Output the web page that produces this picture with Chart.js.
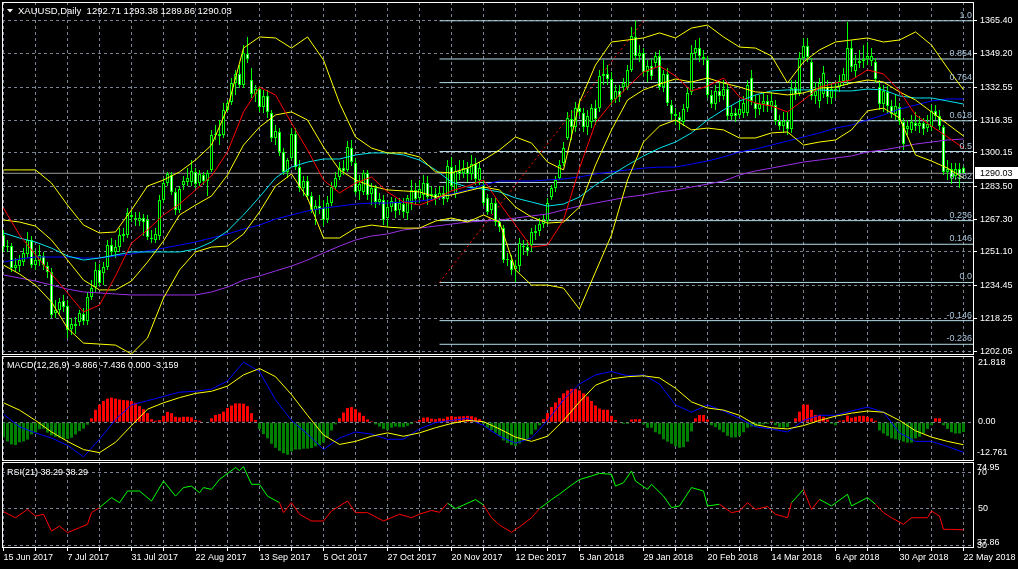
<!DOCTYPE html>
<html>
<head>
<meta charset="utf-8">
<script src="https://cdn.jsdelivr.net/npm/chart.js@4.4.1/dist/chart.umd.min.js"></script>
<style>
  html, body { margin: 0; padding: 0; background: #000; }
  #wrap { position: relative; width: 1018px; height: 569px; overflow: hidden; background: #000; }
  canvas { position: absolute; left: 0; }
</style>
</head>
<body>
<div id="wrap">
  <canvas id="main" width="1018" height="356" style="top:0px"></canvas>
  <canvas id="macd" width="1018" height="106" style="top:356px"></canvas>
  <canvas id="rsi" width="1018" height="107" style="top:462px"></canvas>
</div>
<script>
// ---- daily XAUUSD candles, 15 Jun 2017 .. 22 May 2018 ----
const opens = [
  1259.5,1253.5,1254.0,1243.1,1244.1,1246.1,1250.1,1257.0,1244.6,1246.6,
  1249.1,1244.1,1241.2,1220.9,1222.4,1226.8,1224.3,1212.9,1215.4,1216.4,
  1220.4,1216.9,1228.8,1233.7,1242.2,1240.7,1243.6,1254.5,1251.1,1253.5,
  1259.0,1259.5,1269.4,1267.9,1266.4,1267.9,1266.9,1258.0,1257.0,1259.0,
  1276.8,1285.2,1289.2,1280.8,1271.9,1284.2,1285.7,1285.7,1290.7,1285.2,
  1289.2,1286.2,1291.7,1309.0,1309.5,1309.0,1321.4,1325.3,1334.7,1339.2,
  1333.7,1349.1,1336.2,1329.3,1331.7,1322.8,1328.3,1319.9,1307.5,1310.5,
  1300.6,1290.7,1297.6,1309.5,1293.1,1282.7,1286.2,1278.8,1271.9,1273.8,
  1272.8,1267.4,1275.3,1283.2,1288.2,1292.6,1291.7,1302.5,1295.1,1281.3,
  1280.8,1290.2,1279.8,1282.7,1275.8,1276.8,1267.9,1273.3,1275.8,1271.9,
  1274.8,1270.4,1275.3,1281.8,1277.8,1279.3,1285.2,1278.8,1279.8,1277.8,
  1280.3,1277.3,1293.1,1279.8,1291.2,1290.2,1292.6,1289.7,1294.6,1286.7,
  1284.2,1277.8,1271.9,1275.3,1265.9,1262.9,1247.1,1247.1,1242.6,1244.1,
  1254.0,1253.5,1254.5,1260.5,1261.5,1264.9,1266.4,1278.3,1282.7,1287.7,
  1295.1,1307.5,1316.9,1312.9,1322.3,1319.9,1312.9,1315.4,1322.3,1322.3,
  1338.2,1339.2,1336.7,1326.8,1330.8,1332.7,1332.7,1341.2,1357.5,1348.1,
  1349.6,1340.2,1343.1,1344.6,1348.1,1332.7,1339.2,1323.8,1319.4,1317.9,
  1315.4,1322.3,1330.3,1349.6,1352.0,1347.6,1346.1,1328.8,1324.3,1330.8,
  1328.3,1331.7,1318.4,1319.9,1318.9,1319.9,1319.9,1337.2,1324.8,1321.8,
  1324.3,1325.8,1323.3,1323.8,1315.9,1313.4,1315.9,1311.9,1332.2,1329.8,
  1347.1,1353.0,1345.1,1328.3,1325.8,1329.3,1332.7,1327.3,1331.7,1332.7,
  1335.7,1335.7,1352.0,1340.7,1344.6,1345.6,1346.6,1345.6,1345.1,1332.7,
  1324.3,1330.3,1323.3,1319.4,1322.8,1315.4,1311.9,1311.5,1314.9,1313.4,
  1314.9,1312.4,1312.9,1320.9,1318.4,1312.9,1290.7,1292.1,1288.7,1292.1,
  1292.71
];
const highs = [
  1262.0,1257.0,1255.5,1248.1,1249.6,1253.0,1261.0,1259.0,1252.1,1254.5,
  1251.1,1246.1,1243.1,1227.3,1228.3,1229.8,1227.3,1218.4,1218.9,1222.4,
  1223.3,1231.3,1237.2,1246.1,1245.1,1246.1,1257.0,1258.0,1257.0,1262.9,
  1262.9,1272.8,1271.9,1270.9,1270.9,1269.9,1269.4,1262.0,1262.9,1279.3,
  1287.7,1290.7,1290.7,1282.7,1283.7,1288.7,1292.6,1296.6,1292.6,1291.7,
  1290.7,1291.7,1311.5,1313.9,1316.4,1324.8,1326.3,1337.2,1341.2,1343.6,
  1353.5,1357.5,1342.1,1333.7,1333.2,1331.3,1331.3,1321.4,1313.9,1312.4,
  1302.5,1297.6,1312.4,1312.4,1296.6,1288.7,1288.7,1280.8,1276.8,1279.3,
  1276.8,1278.8,1285.7,1290.7,1295.6,1296.6,1306.0,1306.5,1297.6,1289.2,
  1291.7,1291.7,1285.2,1284.2,1280.3,1279.3,1276.8,1278.3,1277.8,1277.8,
  1277.8,1279.3,1286.7,1285.2,1286.7,1289.2,1288.7,1283.7,1282.7,1283.7,
  1283.7,1296.6,1298.1,1294.1,1296.6,1296.6,1295.6,1299.1,1297.6,1295.6,
  1286.7,1279.8,1277.8,1277.8,1267.9,1264.4,1250.6,1249.6,1247.1,1258.0,
  1257.0,1257.0,1262.9,1264.4,1267.9,1269.4,1277.8,1284.2,1288.7,1296.6,
  1305.5,1320.4,1321.4,1325.3,1326.3,1322.3,1321.4,1324.3,1326.3,1341.2,
  1346.1,1343.6,1340.2,1333.7,1333.7,1337.2,1343.6,1362.4,1365.6,1353.5,
  1352.0,1346.1,1347.1,1350.1,1351.1,1341.2,1342.1,1326.3,1322.3,1320.4,
  1324.3,1332.2,1353.5,1356.0,1357.0,1351.1,1348.1,1331.3,1333.7,1335.2,
  1336.2,1334.2,1323.8,1322.3,1326.3,1328.3,1336.2,1341.2,1328.8,1328.8,
  1329.8,1328.8,1329.8,1326.3,1318.9,1320.4,1320.4,1336.2,1336.2,1350.1,
  1357.0,1357.0,1347.1,1335.2,1337.2,1343.1,1336.2,1335.2,1335.2,1338.7,
  1342.1,1364.9,1356.0,1348.6,1351.1,1353.5,1355.0,1352.0,1347.1,1336.2,
  1333.7,1333.2,1326.3,1328.8,1324.8,1317.4,1316.4,1318.9,1320.4,1318.4,
  1317.4,1318.9,1323.8,1323.8,1321.4,1313.9,1296.6,1295.1,1295.1,1295.1,
  1293.38
];
const lows = [
  1251.1,1251.1,1241.2,1241.2,1241.2,1244.1,1248.1,1243.1,1242.2,1244.1,
  1242.2,1238.2,1218.4,1218.4,1220.4,1221.4,1208.5,1210.0,1210.5,1214.4,
  1214.9,1214.9,1227.3,1231.3,1234.2,1234.7,1242.2,1249.1,1248.1,1251.1,
  1256.0,1258.0,1265.9,1263.9,1263.9,1259.0,1257.0,1255.5,1255.5,1257.0,
  1275.3,1283.7,1279.3,1269.4,1270.4,1281.8,1283.7,1283.7,1282.7,1283.7,
  1284.2,1278.8,1290.7,1306.5,1304.0,1307.5,1320.4,1323.8,1328.8,1332.2,
  1332.2,1344.6,1327.3,1325.3,1320.4,1319.9,1317.4,1305.5,1304.0,1298.6,
  1289.2,1287.7,1296.6,1291.7,1280.8,1278.8,1276.8,1270.4,1264.4,1269.9,
  1263.9,1265.4,1273.8,1281.8,1286.7,1289.2,1290.7,1293.6,1279.3,1276.8,
  1279.3,1276.8,1274.3,1272.8,1274.3,1264.4,1263.4,1270.9,1267.9,1269.4,
  1267.9,1266.9,1271.9,1274.3,1275.3,1276.8,1274.3,1276.8,1274.3,1276.8,
  1274.3,1275.8,1281.8,1277.8,1286.7,1287.7,1285.7,1286.7,1284.2,1284.2,
  1273.8,1269.4,1269.9,1263.9,1261.0,1245.6,1244.1,1239.7,1236.2,1241.2,
  1249.6,1249.1,1251.1,1257.0,1259.0,1262.9,1264.4,1276.8,1280.8,1286.7,
  1293.6,1306.5,1306.5,1310.5,1318.4,1310.5,1309.0,1312.4,1313.9,1320.4,
  1333.7,1333.7,1323.8,1324.8,1325.3,1330.3,1331.3,1340.2,1346.1,1345.1,
  1338.2,1335.2,1336.2,1342.6,1331.3,1330.3,1323.3,1316.4,1313.9,1311.5,
  1313.4,1320.4,1328.8,1346.1,1345.1,1343.6,1327.3,1322.3,1321.4,1325.3,
  1326.3,1316.4,1316.4,1315.4,1317.4,1317.4,1318.4,1323.8,1317.4,1318.9,
  1320.4,1320.4,1321.4,1313.9,1311.5,1310.0,1309.0,1310.0,1326.3,1328.3,
  1345.1,1345.1,1326.3,1324.3,1322.3,1327.3,1324.3,1324.3,1327.3,1330.3,
  1333.2,1333.7,1340.2,1337.2,1342.1,1342.1,1343.6,1343.1,1334.7,1321.4,
  1320.4,1319.9,1317.4,1316.4,1313.9,1301.6,1309.0,1310.0,1311.0,1310.0,
  1309.0,1310.5,1311.0,1316.4,1311.5,1289.2,1286.7,1284.7,1286.7,1282.7,
  1289.86
];
const closes = [
  1253.5,1254.0,1243.1,1244.6,1247.1,1250.6,1257.0,1244.6,1247.1,1249.6,
  1244.6,1241.2,1219.9,1222.4,1226.3,1223.8,1212.5,1215.4,1214.4,1220.9,
  1216.9,1228.8,1233.2,1242.2,1235.7,1243.6,1254.5,1251.1,1253.5,1259.5,
  1260.0,1270.4,1268.4,1267.4,1267.9,1265.9,1258.5,1257.5,1260.0,1276.8,
  1285.2,1289.7,1280.8,1271.9,1282.2,1286.2,1287.7,1291.2,1284.7,1289.7,
  1286.2,1290.2,1309.0,1309.5,1308.5,1321.4,1324.8,1334.7,1339.2,1333.7,
  1349.6,1346.6,1329.3,1331.7,1322.8,1328.3,1320.4,1307.5,1311.0,1300.6,
  1290.7,1296.6,1309.5,1293.1,1282.7,1286.2,1278.8,1271.9,1273.8,1272.3,
  1266.9,1275.3,1283.2,1287.7,1292.6,1291.2,1303.0,1295.6,1280.8,1284.7,
  1290.2,1279.3,1282.7,1275.8,1277.3,1266.9,1273.3,1276.3,1271.4,1275.3,
  1270.9,1277.8,1281.8,1277.3,1282.2,1285.2,1278.3,1279.8,1277.3,1280.3,
  1277.3,1293.6,1283.7,1291.2,1289.7,1292.6,1289.7,1294.6,1287.2,1292.6,
  1275.3,1270.9,1275.3,1265.9,1263.4,1247.1,1247.6,1242.2,1244.1,1255.5,
  1253.5,1251.6,1261.0,1261.5,1264.9,1266.4,1275.3,1282.7,1286.7,1294.1,
  1302.5,1317.4,1312.9,1322.3,1320.4,1312.9,1318.4,1322.3,1316.9,1338.2,
  1339.2,1336.7,1326.3,1330.8,1327.8,1334.7,1341.2,1358.0,1348.1,1349.6,
  1340.2,1343.1,1338.2,1348.1,1332.7,1339.2,1324.8,1319.4,1318.4,1315.9,
  1321.8,1329.8,1349.6,1352.0,1348.1,1346.6,1328.8,1324.3,1330.8,1328.3,
  1331.7,1318.4,1319.9,1318.4,1321.8,1324.8,1333.7,1325.8,1321.8,1324.3,
  1325.8,1323.3,1325.8,1315.9,1313.4,1315.9,1311.9,1332.2,1329.3,1347.1,
  1353.0,1347.6,1328.3,1330.8,1334.7,1339.7,1327.8,1331.7,1330.8,1335.7,
  1339.2,1352.0,1342.6,1344.1,1345.6,1346.6,1348.1,1348.1,1336.7,1324.3,
  1330.8,1323.3,1319.4,1323.3,1315.9,1304.5,1313.4,1315.4,1313.4,1314.9,
  1311.9,1314.4,1320.9,1318.4,1313.4,1290.7,1292.1,1288.2,1292.1,1289.7,
  1290.03
];

// ---- indicator lines on the price panel, one reading every 4 bars ----
const bbUpper = [
  1291.7,1291.7,1291.7,1285.2,1274.3,1264.4,1260.5,1261.0,1271.9,1283.7,
  1286.7,1290.7,1296.6,1304.0,1322.3,1352.0,1357.5,1357.0,1352.0,1357.5,
  1346.1,1324.8,1308.0,1302.5,1300.1,1300.1,1298.1,1290.7,1290.2,1292.6,
  1296.6,1301.6,1308.0,1305.0,1295.6,1291.7,1325.3,1343.6,1355.0,1356.0,
  1357.0,1359.5,1357.0,1361.9,1363.4,1357.5,1352.5,1352.0,1348.1,1334.7,
  1345.1,1351.1,1355.0,1356.0,1357.0,1355.0,1356.0,1360.0,1353.5,1342.1,
  1331.3
];
const bbMiddle = [
  1266.9,1265.9,1263.9,1257.0,1247.1,1237.2,1232.3,1232.3,1236.7,1246.1,
  1256.5,1269.4,1274.3,1278.8,1289.2,1304.0,1312.9,1318.9,1320.4,1316.4,
  1303.0,1291.7,1286.7,1283.7,1281.8,1281.3,1280.8,1278.3,1279.3,1281.3,
  1283.2,1281.8,1273.3,1268.4,1265.4,1265.9,1273.3,1294.1,1311.5,1326.3,
  1331.3,1334.2,1336.7,1335.2,1337.2,1334.7,1332.7,1330.3,1329.8,1328.8,
  1329.8,1332.2,1332.7,1334.7,1336.2,1335.2,1330.3,1326.3,1320.4,1314.4,
  1308.5
];
const bbLower = [
  1244.6,1240.2,1234.7,1226.3,1213.4,1206.0,1205.5,1205.0,1200.6,1208.5,
  1228.3,1242.2,1251.1,1253.5,1254.0,1260.0,1270.9,1283.7,1289.7,1277.8,
  1258.0,1258.0,1262.9,1264.4,1263.4,1262.9,1262.9,1266.4,1267.9,1265.9,
  1269.4,1265.9,1242.2,1234.7,1234.7,1233.2,1222.8,1241.2,1259.5,1286.7,
  1305.5,1313.4,1316.4,1311.5,1312.4,1311.5,1307.5,1307.5,1310.0,1310.5,
  1304.0,1305.5,1306.5,1311.5,1320.9,1322.3,1317.4,1299.1,1296.1,1292.6,
  1287.7
];
const maRed = [
  1272.8,1259.5,1249.6,1240.2,1230.8,1221.4,1224.8,1239.2,1255.5,1262.0,
  1269.4,1274.8,1281.8,1288.7,1300.6,1320.4,1332.7,1328.8,1314.9,1301.6,
  1286.7,1280.3,1285.2,1288.2,1280.8,1275.8,1274.3,1277.3,1281.3,1283.7,
  1286.7,1275.3,1264.4,1253.5,1254.5,1266.9,1292.6,1314.9,1324.8,1332.7,
  1340.2,1343.1,1338.2,1330.8,1333.2,1337.2,1327.8,1324.8,1323.3,1320.4,
  1326.3,1332.7,1334.7,1336.2,1341.2,1339.2,1330.8,1318.9,1313.4,1308.0,
  1302.5
];
const maCyan = [
  1260.5,1258.0,1256.0,1253.0,1249.1,1247.1,1248.1,1249.6,1251.1,1251.1,
  1251.1,1251.1,1252.5,1256.0,1261.5,1269.4,1278.3,1287.7,1293.1,1295.6,
  1297.1,1297.1,1299.1,1300.1,1300.1,1299.1,1296.6,1291.7,1285.7,1283.2,
  1282.2,1280.8,1277.8,1275.8,1273.8,1274.8,1278.3,1284.2,1289.2,1294.1,
  1298.6,1302.5,1305.5,1310.0,1316.4,1321.4,1325.8,1328.8,1330.8,1331.3,
  1331.3,1331.3,1330.8,1330.8,1331.7,1331.3,1328.3,1327.3,1327.3,1325.8,
  1324.3
];
const maBlue = [
  1246.1,1247.6,1248.6,1248.6,1248.6,1248.1,1248.1,1249.1,1250.1,1251.6,
  1253.0,1254.5,1256.0,1258.0,1260.0,1262.4,1264.4,1267.4,1269.4,1271.4,
  1272.8,1273.8,1274.8,1275.3,1275.3,1275.8,1276.3,1277.3,1279.8,1281.8,
  1284.2,1286.2,1286.2,1286.2,1286.7,1287.2,1288.2,1289.7,1290.7,1291.7,
  1292.6,1293.1,1293.1,1294.6,1296.1,1298.1,1300.6,1302.0,1304.0,1306.0,
  1308.0,1310.0,1312.4,1313.9,1316.4,1318.9,1321.8,1323.8,1325.8,1326.8,
  1326.8
];
const maPurple = [
  1239.7,1238.2,1236.7,1234.7,1232.7,1231.3,1230.8,1230.3,1229.8,1229.8,
  1229.8,1229.8,1229.8,1231.3,1233.7,1237.2,1239.2,1241.7,1244.1,1247.1,
  1250.6,1254.0,1257.0,1259.0,1260.0,1262.0,1262.9,1263.9,1264.9,1265.9,
  1266.4,1266.9,1267.9,1268.9,1269.9,1271.9,1273.8,1275.3,1276.8,1278.3,
  1279.3,1280.8,1281.8,1283.2,1284.7,1286.2,1289.2,1291.2,1292.6,1294.1,
  1295.6,1296.6,1297.6,1298.6,1300.6,1301.6,1303.0,1304.5,1305.5,1306.5,
  1307.0
];

// ---- Fibonacci retracement drawn on the chart ----
const fibLabels = ['1.0','0.854','0.764','0.618','0.5','0.382','0.236','0.146','0.0','-0.146','-0.236'];
const fibPrices = [1365.5,1346.6,1334.9,1316.0,1300.8,1285.5,1266.6,1254.9,1236.0,1217.1,1205.4];
const fibFromBar = 109;
const fibTrend = [[109, 1236.0], [160, 1365.5]];
const bidPrice = 1290.03;

// ---- MACD(12,26,9) ----
const macdHist = [
  -5.0,-6.3,-7.3,-7.5,-6.6,-6.3,-5.7,-4.0,-3.4,-2.3,
  -2.1,-3.4,-4.3,-4.8,-5.1,-5.5,-5.5,-5.1,-4.0,-2.9,
  -2.1,-0.8,1.3,4.1,5.8,7.0,7.8,8.1,7.8,7.5,
  7.3,7.2,7.0,6.4,5.3,4.3,3.0,1.0,0.5,0.7,
  2.1,3.4,3.0,1.8,1.6,1.8,1.8,1.6,0.7,0.5,
  0.0,-0.2,1.3,2.4,2.7,3.5,4.7,5.5,6.2,6.2,
  6.1,5.3,3.0,0.7,-2.2,-3.9,-5.3,-7.1,-8.4,-9.4,
  -10.2,-10.7,-9.6,-9.0,-9.0,-8.7,-8.7,-8.5,-7.9,-7.5,
  -6.7,-5.0,-2.7,-0.7,1.3,3.2,4.7,5.0,4.3,3.2,
  2.1,0.9,0.3,-0.7,-1.4,-2.2,-2.5,-1.8,-1.4,-1.6,
  -1.6,-1.2,-0.6,0.3,0.8,1.5,1.6,1.2,1.0,1.3,
  1.2,1.8,2.0,1.8,1.9,2.0,2.1,2.0,1.6,1.0,
  -0.5,-1.8,-2.6,-3.5,-4.5,-6.0,-6.8,-7.5,-7.8,-7.0,
  -6.2,-5.5,-4.0,-2.5,-1.0,1.0,3.0,5.0,6.5,8.0,
  9.5,10.5,11.0,11.0,10.5,9.5,8.5,7.0,5.5,4.5,
  4.1,4.1,2.1,0.7,-0.2,-0.5,-0.5,0.9,1.0,1.0,
  -0.7,-1.8,-1.8,-3.3,-3.9,-5.6,-6.4,-7.1,-7.9,-8.4,
  -8.2,-6.4,-3.0,1.3,2.4,2.4,0.9,-1.0,-1.6,-2.5,
  -3.3,-4.5,-5.0,-5.0,-4.5,-3.3,-1.8,-1.4,-1.4,-1.0,
  -0.7,-0.5,0.3,-1.0,-1.6,-1.8,-1.6,-0.2,1.3,3.5,
  5.8,5.8,4.1,2.4,2.4,1.8,0.9,-0.5,-1.0,0.5,
  0.7,2.2,1.5,1.8,2.1,2.1,1.8,1.3,0.5,-2.7,
  -3.7,-4.5,-5.3,-5.6,-5.9,-6.4,-6.7,-6.7,-5.3,-4.8,
  -3.7,-2.2,-1.0,1.3,1.3,-1.0,-2.2,-3.3,-3.7,-3.7,
  -3.2
];
const macdMain = [
  2.6,-1.5,-3.5,-5.2,-7.6,-11.4,-5.6,0.9,5.7,7.1,
  8.5,9.9,10.2,10.9,13.6,19.8,16.7,7.4,0.6,-3.9,
  -9.0,-5.2,-3.2,-3.9,-5.6,-5.6,-2.2,-0.1,0.6,1.3,
  -1.1,-4.6,-6.9,-5.2,0.6,7.4,12.6,15.6,16.7,15.3,
  15.6,12.6,5.7,3.3,5.7,3.7,1.3,-1.5,-2.2,-3.2,
  0.6,2.3,2.3,3.7,5.0,3.3,-3.5,-6.3,-6.3,-8.0,
  -9.9
];
const macdSignal = [
  6.4,4.0,0.6,-3.2,-6.3,-9.0,-10.0,-6.6,-1.1,4.3,
  6.4,8.1,9.5,10.2,11.9,15.6,17.7,15.0,9.1,2.3,
  -4.2,-7.3,-6.3,-4.6,-3.5,-4.6,-3.5,-1.8,-0.4,0.6,
  0.2,-2.2,-4.9,-6.3,-4.6,0.6,6.7,12.2,14.3,15.0,
  15.3,14.6,11.2,6.7,4.7,4.0,2.3,-0.8,-1.8,-2.2,
  -1.1,0.6,2.0,3.0,3.7,3.3,0.6,-2.8,-4.9,-6.3,
  -7.4
];
const macdMax = 21.818, macdMin = -12.761;
const macdReadout = ['-9.866', '-7.436', '0.000', '-3.159'];

// ---- RSI(21) ----
const rsiBars = [
  0,3,6,8,10,12,14,16,19,21,22,24,27,29,31,34,37,40,43,45,
  47,49,50,52,54,58,59,60,62,64,66,69,70,72,74,77,80,82,86,88,
  91,95,99,102,104,107,109,111,113,115,118,120,122,124,127,129,132,134,137,139,
  142,144,147,149,152,153,155,157,158,161,162,165,167,169,172,175,176,179,182,184,
  186,188,191,193,196,197,200,202,204,207,211,212,216,218,220,222,225,227,231,232,
  234,235,237,240
];
const rsiValues = [
  48.3,45.0,49.6,45.9,46.9,37.7,40.4,36.8,39.5,41.4,47.8,50.6,56.1,53.3,59.7,59.7,54.2,65.2,56.9,61.6,
  62.4,58.8,61.6,60.6,66.1,72.6,71.0,73.1,63.4,63.4,56.9,53.3,47.8,53.3,46.9,43.2,43.2,48.7,54.2,47.8,
  47.8,43.2,46.9,45.0,47.0,49.0,48.0,53.0,50.0,52.0,55.0,52.0,45.0,41.0,37.0,40.0,45.0,50.0,55.0,58.0,
  63.0,66.0,68.0,69.4,68.9,62.4,64.3,70.7,65.2,60.6,63.4,56.9,50.6,51.5,61.6,59.7,51.5,52.4,47.8,48.7,
  53.3,49.6,51.1,46.9,45.0,53.3,60.6,49.6,55.1,51.5,57.9,51.5,56.1,52.4,47.8,45.0,41.4,45.0,45.0,48.7,
  45.9,38.6,38.6,38.3
];
const rsiReadout = '38.29';
const rsiMaxLabel = '74.95', rsiMinLabel = '37.86';

// ---- axes ----
const priceTicks = [1365.40,1349.20,1332.55,1316.35,1300.15,1283.50,1267.30,1251.10,1234.45,1218.25,1202.05];
const dateLabels = ['15 Jun 2017','7 Jul 2017','31 Jul 2017','22 Aug 2017','13 Sep 2017','5 Oct 2017',
  '27 Oct 2017','20 Nov 2017','12 Dec 2017','5 Jan 2018','29 Jan 2018','20 Feb 2018',
  '14 Mar 2018','6 Apr 2018','30 Apr 2018','22 May 2018'];

const X_MIN = -0.375, X_MAX = 242.625;
const GRID = '#7a8494';
const LIME = '#00ff00';
const FONT = { family: 'Liberation Sans, Arial, sans-serif', size: 9 };
const FONT_CSS = '9px "Liberation Sans", Arial, sans-serif';
const TITLE_CSS = '9.5px "Liberation Sans", Arial, sans-serif';
const lineIdx = bbUpper.map((_, k) => k * 4);
const barIdx = closes.map((_, i) => i);
const gridIdx = [];
for (let v = 0; v <= 240; v += 8) gridIdx.push(v);

Chart.defaults.font.family = FONT.family;
Chart.defaults.font.size = FONT.size;

function xAxis(withLabels) {
  return {
    type: 'linear', min: X_MIN, max: X_MAX, offset: false,
    afterBuildTicks: s => { s.ticks = gridIdx.map(v => ({ value: v })); },
    afterFit: s => { s.paddingLeft = 0; s.paddingRight = 0; s.height = withLabels ? 21 : 0; },
    grid: { color: GRID, offset: false, drawTicks: withLabels, tickLength: 3, tickColor: '#ffffff' },
    border: { display: false, dash: [3, 3] },
    ticks: {
      display: withLabels, autoSkip: false, maxRotation: 0, align: 'start', padding: 1,
      color: '#ffffff', font: FONT,
      callback: v => (v % 16 === 0 ? dateLabels[v / 16] : '')
    }
  };
}

function yAxis(min, max, tickVals, showLabels, fmt) {
  return {
    position: 'right', min: min, max: max,
    afterBuildTicks: s => { s.ticks = tickVals.map(v => ({ value: v })); },
    afterFit: s => { s.width = 44; s.paddingTop = 0; s.paddingBottom = 0; },
    grid: { color: GRID, drawTicks: showLabels, tickLength: 3, tickColor: '#ffffff' },
    border: { display: false, dash: [3, 3] },
    ticks: { display: showLabels, color: '#ffffff', font: FONT, padding: 3, callback: fmt }
  };
}

function lineSet(vals, xs, color, order) {
  return {
    type: 'line', data: vals.map((v, k) => ({ x: xs[k], y: v })),
    borderColor: color, borderWidth: 1, pointRadius: 0, tension: 0, order: order
  };
}

const framePlugin = {
  id: 'frame',
  afterDraw(chart) {
    const a = chart.chartArea, ctx = chart.ctx;
    ctx.save();
    ctx.strokeStyle = '#ffffff';
    ctx.lineWidth = 1;
    ctx.strokeRect(a.left + 0.5, a.top + 0.5, a.right - a.left - 1, a.bottom - a.top - 1);
    ctx.restore();
  }
};

const commonOpts = {
  responsive: false, animation: false, events: [],
  plugins: { legend: { display: false }, tooltip: { enabled: false } }
};

// ---------------- price panel ----------------
const last = closes.length - 1;
const mainLabels = {
  id: 'mainLabels',
  afterDraw(chart) {
    const ctx = chart.ctx, y = chart.scales.y, a = chart.chartArea;
    ctx.save();
    ctx.font = FONT_CSS;
    // fib level texts
    ctx.fillStyle = '#a9c3da';
    ctx.textAlign = 'right';
    ctx.textBaseline = 'bottom';
    fibPrices.forEach((p, k) => ctx.fillText(fibLabels[k], a.right - 2, Math.round(y.getPixelForValue(p)) - 1));
    // title
    ctx.fillStyle = '#ffffff';
    ctx.beginPath();
    ctx.moveTo(7, 9); ctx.lineTo(13, 9); ctx.lineTo(10, 12.5); ctx.closePath(); ctx.fill();
    ctx.font = TITLE_CSS;
    ctx.textAlign = 'left';
    ctx.textBaseline = 'alphabetic';
    ctx.fillText('XAUUSD,Daily  ' + opens[last].toFixed(2) + ' ' + highs[last].toFixed(2) + ' ' +
      lows[last].toFixed(2) + ' ' + closes[last].toFixed(2), 18, 14);
    // bid box
    ctx.font = FONT_CSS;
    const by = Math.round(y.getPixelForValue(bidPrice));
    ctx.fillRect(a.right + 1, by - 6, chart.width - a.right - 1, 12);
    ctx.fillStyle = '#000000';
    ctx.textBaseline = 'middle';
    ctx.fillText(bidPrice.toFixed(2), a.right + 6, by + 0.5);
    ctx.restore();
  }
};

const mainDatasets = [
  { type: 'line', data: [{ x: X_MIN, y: bidPrice }, { x: X_MAX, y: bidPrice }],
    borderColor: '#9a9a9a', borderWidth: 1, pointRadius: 0, order: 12 },
  ...fibPrices.map(p => ({ type: 'line', data: [{ x: fibFromBar, y: p }, { x: X_MAX, y: p }],
    borderColor: '#b4dde8', borderWidth: 1, pointRadius: 0, order: 11 })),
  { type: 'line', data: fibTrend.map(q => ({ x: q[0], y: q[1] })), borderColor: '#ff0000',
    borderWidth: 1, borderDash: [2, 3], pointRadius: 0, order: 10 },
  { type: 'bar', data: barIdx.map(i => ({ x: i, y: [lows[i], highs[i]] })),
    backgroundColor: LIME, borderWidth: 0, barThickness: 1, grouped: false, inflateAmount: 0, order: 9 },
  { type: 'bar', data: barIdx.map(i => ({ x: i, y: [opens[i], closes[i]] })),
    backgroundColor: barIdx.map(i => (closes[i] >= opens[i] ? '#000000' : '#ffffff')),
    borderColor: LIME, borderWidth: 1, borderSkipped: false, barThickness: 3, grouped: false,
    inflateAmount: 0, order: 8 },
  lineSet(maPurple, lineIdx, '#9b30e8', 7),
  lineSet(maBlue, lineIdx, '#0000ff', 6),
  lineSet(maCyan, lineIdx, '#00e5ee', 5),
  lineSet(bbUpper, lineIdx, '#ffff00', 4),
  lineSet(bbMiddle, lineIdx, '#ffff00', 4),
  lineSet(bbLower, lineIdx, '#ffff00', 4),
  lineSet(maRed, lineIdx, '#ff0000', 3)
];

new Chart(document.getElementById('main'), {
  type: 'bar',
  data: { datasets: mainDatasets },
  options: Object.assign({}, commonOpts, {
    layout: { padding: { top: 2, left: 2, right: 0, bottom: 1 } },
    scales: {
      x: xAxis(false),
      y: yAxis(1200.1, 1374.8, priceTicks, true, v => Number(v).toFixed(2))
    }
  }),
  plugins: [framePlugin, mainLabels]
});

// ---------------- MACD panel ----------------
const macdLabels = {
  id: 'macdLabels',
  afterDraw(chart) {
    const ctx = chart.ctx, y = chart.scales.y, a = chart.chartArea;
    ctx.save();
    ctx.font = FONT_CSS;
    ctx.fillStyle = '#ffffff';
    ctx.textAlign = 'left';
    ctx.textBaseline = 'middle';
    ctx.fillText('MACD(12,26,9) ' + macdReadout.join(' '), 7, a.top + 10);
    ctx.fillText(macdMax.toFixed(3), a.right + 4, a.top + 7);
    ctx.fillText('0.00', a.right + 4, Math.round(y.getPixelForValue(0)));
    ctx.fillText(macdMin.toFixed(3), a.right + 3, a.bottom - 8);
    ctx.restore();
  }
};

new Chart(document.getElementById('macd'), {
  type: 'bar',
  data: {
    datasets: [
      { type: 'bar', data: barIdx.map(i => ({ x: i, y: macdHist[i] })),
        backgroundColor: macdHist.map(v => (v >= 0 ? '#ff0000' : '#008000')),
        borderWidth: 0, barThickness: 3, grouped: false, inflateAmount: 0, order: 5 },
      lineSet(macdMain, lineIdx, '#0000ff', 2),
      lineSet(macdSignal, lineIdx, '#ffff00', 1)
    ]
  },
  options: Object.assign({}, commonOpts, {
    layout: { padding: { top: 0, left: 2, right: 0, bottom: 1 } },
    scales: {
      x: xAxis(false),
      y: yAxis(macdMin, macdMax, [0], false, v => v)
    }
  }),
  plugins: [framePlugin, macdLabels]
});

// ---------------- RSI panel ----------------
const rsiLabels = {
  id: 'rsiLabels',
  afterDraw(chart) {
    const ctx = chart.ctx, y = chart.scales.y, a = chart.chartArea;
    ctx.save();
    ctx.font = FONT_CSS;
    ctx.fillStyle = '#ffffff';
    ctx.textAlign = 'left';
    ctx.textBaseline = 'middle';
    ctx.fillText('RSI(21) ' + rsiReadout + ' ' + rsiReadout, 7, a.top + 11);
    ctx.fillText(rsiMaxLabel, a.right + 3, a.top + 6);
    ctx.fillText('70', a.right + 3, Math.round(y.getPixelForValue(70)) + 1);
    ctx.fillText('50', a.right + 4, Math.round(y.getPixelForValue(50)));
    ctx.fillText('30', a.right + 3, Math.round(y.getPixelForValue(30)) + 1);
    ctx.fillText(rsiMinLabel, a.right + 3, a.bottom - 5);
    ctx.restore();
  }
};

new Chart(document.getElementById('rsi'), {
  type: 'line',
  data: {
    datasets: [{
      data: rsiBars.map((b, k) => ({ x: b, y: rsiValues[k] })),
      borderWidth: 1, pointRadius: 0, tension: 0, borderColor: LIME,
      segment: { borderColor: c => (c.p0.parsed.y >= 50 && c.p1.parsed.y >= 50 ? LIME : '#ff0000') }
    }]
  },
  options: Object.assign({}, commonOpts, {
    layout: { padding: { top: 0, left: 2, right: 0, bottom: 0 } },
    scales: {
      x: xAxis(true),
      y: yAxis(28.35, 75.67, [70, 50, 30], false, v => v)
    }
  }),
  plugins: [framePlugin, rsiLabels]
});
</script>
</body>
</html>
